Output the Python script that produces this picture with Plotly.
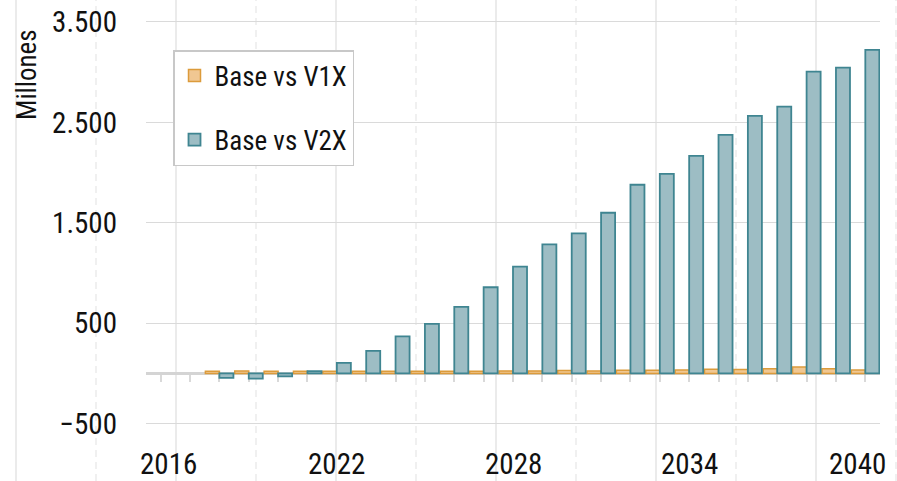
import plotly.graph_objects as go

# ---- data ----
years = list(range(2016, 2041))
base_vs_v1x = [None, None, 22, 25, 22, 22, 22, 22, 22, 22, 22, 22, 25, 25, 28,
               25, 32, 32, 33, 42, 40, 46, 63, 46, 33]
base_vs_v2x = [None, None, -45, -52, -30, 22, 105, 225, 368, 493, 662, 858, 1064,
               1285, 1395, 1600, 1879, 1988, 2167, 2376, 2565, 2657, 3005, 3045, 3221]
x_tick_labels = ["2016", "2022", "2028", "2034", "2040"]
series_names = ["Base vs V1X", "Base vs V2X"]
y_title = "Millones"

# ---- styling ----
FONT = "'Roboto Condensed', 'Liberation Sans Narrow', 'DejaVu Sans Condensed', 'Arial Narrow', sans-serif"
TXT = "#111111"
W, H = 897, 481
ML, MR, MT, MB = 146, 17, 10, 41
YMIN, YMAX = -663, 3619
XMIN, XMAX = years[0] - 0.5, years[-1] + 0.5

fig = go.Figure()
fig.add_trace(go.Bar(
    x=years, y=base_vs_v1x, name=series_names[0], legendgroup="a",
    marker=dict(color="#f0c792", line=dict(color="#dc9b3b", width=1.5)),
))
fig.add_trace(go.Bar(
    x=years, y=base_vs_v2x, name=series_names[1], legendgroup="b",
    marker=dict(color="#9dbdc4", line=dict(color="#3f8591", width=1.8)),
))

plot_w = W - ML - MR
plot_h = H - MT - MB
zero_frac = (0 - YMIN) / (YMAX - YMIN)

# decorative background vertical grid spanning the whole picture
shapes = []
for i, px in enumerate(range(16, W + 1, 80)):
    xf = (px - ML) / plot_w
    shapes.append(dict(
        type="line", xref="paper", yref="paper", layer="below",
        x0=xf, x1=xf, y0=-MB / plot_h, y1=1 + MT / plot_h,
        line=dict(color="#ebebeb", width=2 if i % 2 == 0 else 1.5,
                  dash="solid" if i % 2 == 0 else "7px,5px"),
    ))

# x tick labels (edge labels nudged inward to stay inside the picture)
annotations = []
for j, lab in enumerate(x_tick_labels):
    nudge = 8 if j == 0 else (-8 if j == len(x_tick_labels) - 1 else 0)
    annotations.append(dict(
        text=lab, x=int(lab), xref="x", y=0, yref="paper",
        xanchor="center", yanchor="top", yshift=-5, xshift=nudge,
        showarrow=False, font=dict(family=FONT, size=29, color=TXT),
    ))
annotations.append(dict(
    text=y_title, textangle=-90, xref="paper", yref="paper",
    x=(27 - ML) / plot_w, y=(H - MB - 75) / plot_h,
    xanchor="center", yanchor="middle", showarrow=False,
    font=dict(family=FONT, size=27, color=TXT),
))

fig.update_layout(
    width=W, height=H, autosize=False,
    margin=dict(l=ML, r=MR, t=MT, b=MB, pad=0),
    paper_bgcolor="white", plot_bgcolor="rgba(0,0,0,0)",
    font=dict(family=FONT, size=29, color=TXT),
    separators=",.",
    barmode="group", bargap=0.045, bargroupgap=0,
    showlegend=True,
    legend=dict(
        x=(173 - ML) / plot_w, y=(H - MB - 50) / plot_h,
        xanchor="left", yanchor="top",
        bgcolor="white", bordercolor="#c8c8c8", borderwidth=1.5,
        font=dict(family=FONT, size=27, color=TXT),
        traceorder="grouped", tracegroupgap=26,
    ),
    xaxis=dict(
        range=[XMIN, XMAX], anchor="free", position=zero_frac, side="bottom",
        tickmode="array", tickvals=years, showticklabels=False,
        ticks="outside", ticklen=7, tickwidth=2, tickcolor="#d9d9d9",
        showline=True, linecolor="#d4d4d4", linewidth=2.5,
        showgrid=False, zeroline=False, layer="below traces", automargin=False,
    ),
    yaxis=dict(
        range=[YMIN, YMAX], tick0=-500, dtick=1000, tickformat=",d",
        showgrid=True, gridcolor="#dadada", gridwidth=1.3,
        zeroline=False, showline=False, ticks="",
        tickfont=dict(family=FONT, size=29, color=TXT),
        ticklabelstandoff=28, automargin=False,
    ),
    shapes=shapes,
    annotations=annotations,
)

fig.write_html(
    "out.html",
    config={"displayModeBar": False},
    post_script="document.body.style.margin='0';document.body.style.padding='0';document.body.style.overflow='hidden';",
)
